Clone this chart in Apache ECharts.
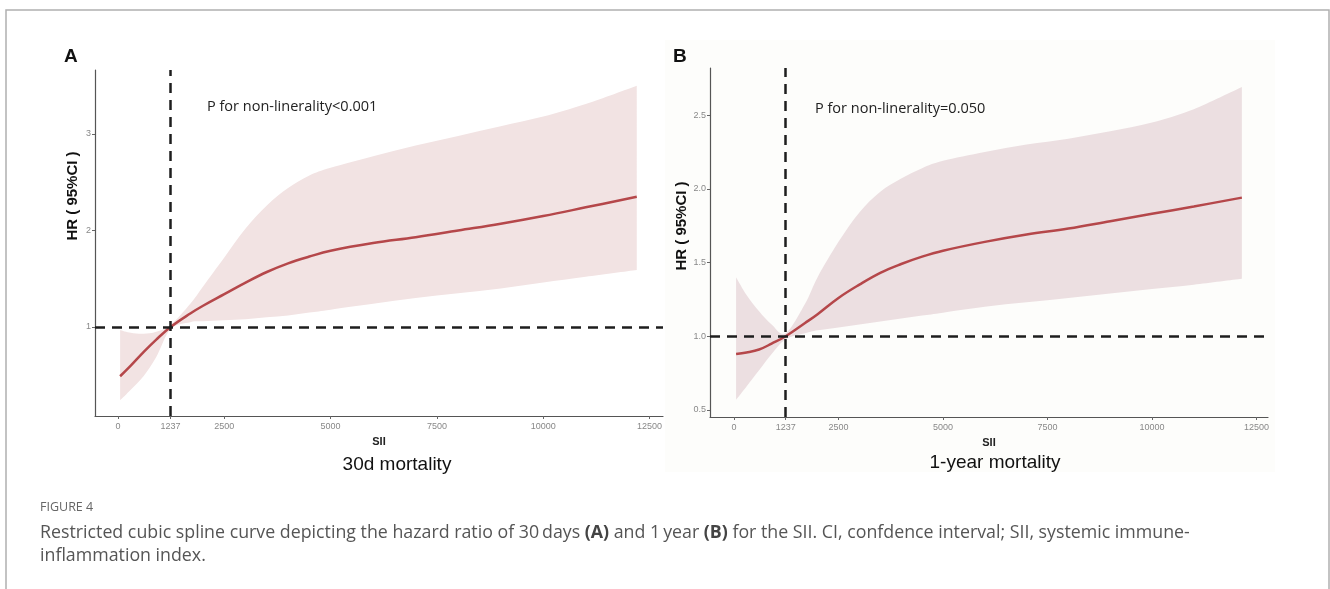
<!DOCTYPE html>
<html>
<head>
<meta charset="utf-8">
<script src="https://cdn.jsdelivr.net/npm/echarts@6/dist/echarts.min.js"></script>
<style>
html, body { margin: 0; padding: 0; background: #fff; }
#chart { width: 1330px; height: 589px; }
</style>
</head>
<body>
<div id="chart"></div>
<script>
// SII grid points and HR with 95% CI
const siiA = [50, 300, 600, 900, 1237, 1700, 2000, 2500, 3000, 3500, 4000, 4500, 5000, 6000, 7000, 8000, 9000, 10000, 11000, 12200]
const hrA = [0.49, 0.60, 0.74, 0.87, 1.00, 1.14, 1.22, 1.34, 1.46, 1.57, 1.66, 1.73, 1.79, 1.87, 1.93, 2.00, 2.07, 2.15, 2.24, 2.35]
const lowA = [0.24, 0.35, 0.49, 0.69, 0.98, 1.05, 1.06, 1.07, 1.08, 1.10, 1.12, 1.15, 1.18, 1.24, 1.30, 1.35, 1.40, 1.46, 1.52, 1.59]
const upA = [0.97, 0.94, 0.93, 0.95, 1.02, 1.24, 1.42, 1.72, 2.02, 2.26, 2.44, 2.57, 2.65, 2.77, 2.88, 2.98, 3.08, 3.18, 3.31, 3.50]

const siiB = [50, 300, 600, 900, 1237, 1700, 2000, 2500, 3000, 3500, 4000, 4500, 5000, 6000, 7000, 8000, 9000, 10000, 11000, 12150]
const hrB = [0.88, 0.89, 0.91, 0.95, 1.00, 1.09, 1.15, 1.26, 1.35, 1.43, 1.49, 1.54, 1.58, 1.64, 1.69, 1.73, 1.78, 1.83, 1.88, 1.94]
const lowB = [0.57, 0.66, 0.77, 0.88, 0.98, 1.02, 1.04, 1.06, 1.08, 1.10, 1.12, 1.14, 1.16, 1.20, 1.23, 1.26, 1.29, 1.32, 1.35, 1.39]
const upB = [1.40, 1.28, 1.17, 1.08, 1.02, 1.22, 1.40, 1.64, 1.84, 1.98, 2.07, 2.14, 2.19, 2.25, 2.30, 2.34, 2.39, 2.45, 2.54, 2.69]

const xTicks = [0, 1237, 2500, 5000, 7500, 10000, 12500]
const yTicksA = [1, 2, 3]
const yTicksB = [0.5, 1.0, 1.5, 2.0, 2.5]
const knot = 1237
const refHR = 1

const chart = echarts.init(document.getElementById('chart'))

const zip = (xs, ys) => xs.map((x, i) => [x, ys[i]])

function xAxisCfg(gridIndex, min, max) {
  return {
    type: 'value',
    gridIndex,
    min,
    max,
    name: 'SII',
    nameLocation: 'middle',
    nameGap: 20,
    nameTextStyle: { fontFamily: 'Liberation Sans', fontWeight: 'bold', fontSize: 11, color: '#222' },
    axisLine: { onZero: false, lineStyle: { color: '#555', width: 1.2 } },
    axisTick: { customValues: xTicks, length: 3, lineStyle: { color: '#666' } },
    axisLabel: { customValues: xTicks, fontFamily: 'Liberation Sans', fontSize: 9, color: '#888', margin: 6, formatter: v => String(v) },
    splitLine: { show: false },
  }
}

function yAxisCfg(gridIndex, min, max, ticks, fmt) {
  return {
    type: 'value',
    gridIndex,
    min,
    max,
    axisLine: { show: true, onZero: false, lineStyle: { color: '#555', width: 1.2 } },
    axisTick: { show: true, customValues: ticks, length: 3, lineStyle: { color: '#666' } },
    axisLabel: { customValues: ticks, fontFamily: 'Liberation Sans', fontSize: 9, color: '#888', margin: 4, formatter: fmt },
    splitLine: { show: false },
  }
}

// smooth edge through pixel points (catmull-rom as cubic beziers)
function edgePath(pts) {
  let d = ''
  for (let i = 0; i < pts.length - 1; i++) {
    const p0 = pts[Math.max(i - 1, 0)]
    const p1 = pts[i]
    const p2 = pts[i + 1]
    const p3 = pts[Math.min(i + 2, pts.length - 1)]
    const c1 = [p1[0] + (p2[0] - p0[0]) / 6, p1[1] + (p2[1] - p0[1]) / 6]
    const c2 = [p2[0] - (p3[0] - p1[0]) / 6, p2[1] - (p3[1] - p1[1]) / 6]
    d += ` C ${c1[0]} ${c1[1]} ${c2[0]} ${c2[1]} ${p2[0]} ${p2[1]}`
  }
  return d
}

function bandSeries(idx, xs, lo, hi, color) {
  return {
    type: 'custom',
    xAxisIndex: idx,
    yAxisIndex: idx,
    silent: true,
    z: 1,
    data: [[xs[0], lo[0]]],
    renderItem: (params, api) => {
      const top = xs.map((x, i) => api.coord([x, hi[i]]))
      const bot = xs.map((x, i) => api.coord([x, lo[i]])).reverse()
      const d = `M ${top[0][0]} ${top[0][1]}` + edgePath(top) +
        ` L ${bot[0][0]} ${bot[0][1]}` + edgePath(bot) + ' Z'
      return { type: 'path', shape: { pathData: d }, style: { fill: color } }
    },
  }
}

function curveSeries(idx, xs, ys) {
  return {
    type: 'line',
    xAxisIndex: idx,
    yAxisIndex: idx,
    data: zip(xs, ys),
    smooth: 0.4,
    showSymbol: false,
    z: 3,
    lineStyle: { color: '#b5474a', width: 2.5 },
    markLine: {
      silent: true,
      symbol: ['none', 'none'],
      label: { show: false },
      lineStyle: { color: '#1e1e1e', width: 2.5, type: [10, 7] },
      data: [{ xAxis: knot }, { yAxis: refHR }],
    },
  }
}

const txt = (x, y, text, style) => ({
  type: 'text', x, y, z: 10,
  style: Object.assign({ text, fill: '#111', fontFamily: 'Liberation Sans', textVerticalAlign: 'middle' }, style),
})

const yName = (x, y) => ({
  type: 'text', x, y, rotation: Math.PI / 2, z: 10,
  style: { text: 'HR ( 95%CI )', fontFamily: 'Liberation Sans', fontWeight: 'bold', fontSize: 15, fill: '#111', textAlign: 'center', textVerticalAlign: 'middle' },
})

chart.setOption({
  animation: false,
  grid: [
    { left: 95, top: 70, width: 568, height: 346 },
    { left: 710, top: 68, width: 558, height: 349 },
  ],
  xAxis: [xAxisCfg(0, -541, 12817), xAxisCfg(1, -574, 12775)],
  yAxis: [
    yAxisCfg(0, 0.078, 3.663, yTicksA, v => String(v)),
    yAxisCfg(1, 0.4525, 2.819, yTicksB, v => v.toFixed(1)),
  ],
  series: [
    bandSeries(0, siiA, lowA, upA, '#f2e3e3'),
    curveSeries(0, siiA, hrA),
    bandSeries(1, siiB, lowB, upB, '#ecdfe1'),
    curveSeries(1, siiB, hrB),
  ],
  graphic: [
    {
      type: 'polyline', z: 0, silent: true,
      shape: { points: [[6, 589], [6, 10], [1329, 10], [1329, 589]] },
      style: { stroke: '#b0b0b0', lineWidth: 1.5, fill: null },
    },
    {
      type: 'rect', z: -1, silent: true,
      shape: { x: 665, y: 40, width: 610, height: 432 },
      style: { fill: '#fdfdfb' },
    },
    txt(64, 57, 'A', { fontSize: 19, fontWeight: 'bold' }),
    txt(673, 57, 'B', { fontSize: 19, fontWeight: 'bold' }),
    txt(207, 107, 'P for non-linerality<0.001', { fontFamily: 'Open Sans', fontSize: 14.5, fill: '#222' }),
    txt(815, 109, 'P for non-linerality=0.050', { fontFamily: 'Open Sans', fontSize: 14.5, fill: '#222' }),
    yName(73, 196),
    yName(682, 226),
    txt(397, 465, '30d mortality', { fontSize: 19, textAlign: 'center' }),
    txt(995, 463, '1-year mortality', { fontSize: 19, textAlign: 'center' }),
    txt(40, 507, 'FIGURE 4', { fontFamily: 'Open Sans', fontSize: 12.5, fill: '#666' }),
    {
      type: 'text', x: 40, y: 533, z: 10,
      style: {
        text: 'Restricted cubic spline curve depicting the hazard ratio of 30\u2009days {b|(A)} and 1\u2009year {b|(B)} for the SII. CI, confdence interval; SII, systemic immune-',
        fontFamily: 'Open Sans', fontSize: 17.8, fill: '#555', textVerticalAlign: 'middle',
        rich: { b: { fontFamily: 'Open Sans', fontSize: 17.8, fontWeight: 'bold', fill: '#444' } },
      },
    },
    txt(40, 556, 'inflammation index.', { fontFamily: 'Open Sans', fontSize: 17.8, fill: '#555' }),
  ],
})
</script>
</body>
</html>
